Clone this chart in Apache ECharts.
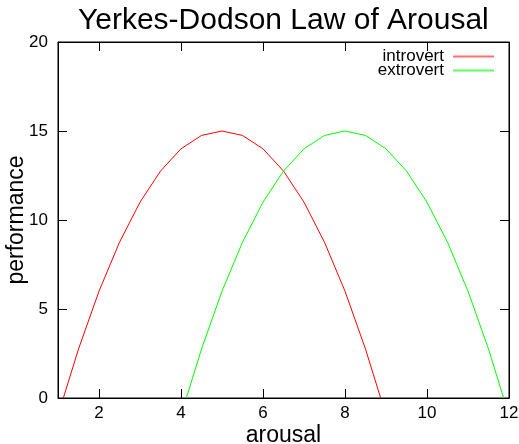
<!DOCTYPE html>
<html>
<head>
<meta charset="utf-8">
<script src="https://cdn.jsdelivr.net/npm/echarts@6/dist/echarts.min.js"></script>
<style>
  html, body { margin: 0; padding: 0; background: #fff; }
  #main { width: 519px; height: 444px; }
</style>
</head>
<body>
<div id="main"></div>
<script>
let introX = [1.13, 1.5, 2, 2.5, 3, 3.5, 4, 4.5, 5, 5.5, 6, 6.5, 7, 7.5, 8, 8.5, 8.87];
let introY = [0, 2.75, 6, 8.75, 11, 12.75, 14, 14.75, 15, 14.75, 14, 12.75, 11, 8.75, 6, 2.75, 0];
let extroX = [4.13, 4.5, 5, 5.5, 6, 6.5, 7, 7.5, 8, 8.5, 9, 9.5, 10, 10.5, 11, 11.5, 11.87];
let extroY = [0, 2.75, 6, 8.75, 11, 12.75, 14, 14.75, 15, 14.75, 14, 12.75, 11, 8.75, 6, 2.75, 0];
let xTicks = [2, 4, 6, 8, 10, 12];

let font = 'Liberation Sans, Arial, sans-serif';
let myChart = echarts.init(document.getElementById('main'));

let pairs = (xs, ys) => xs.map((x, i) => [x, ys[i]]);

let tickStyle = {
    show: true,
    inside: true,
    length: 9,
    lineStyle: { color: '#000', width: 1 }
};
let lineStyle = { show: true, onZero: false, lineStyle: { color: '#000', width: 1 } };

myChart.setOption({
    backgroundColor: '#fff',
    animation: false,
    title: {
        text: 'Yerkes-Dodson Law of Arousal',
        left: 73,
        top: 1,
        textStyle: {
            fontFamily: font,
            fontSize: 30,
            fontWeight: 'normal',
            color: '#000'
        }
    },
    legend: {
        orient: 'vertical',
        right: 20,
        top: 43,
        align: 'right',
        itemWidth: 41,
        itemHeight: 2,
        itemGap: -3,
        icon: 'rect',
        data: [
            { name: 'introvert', itemStyle: { color: '#ff7070' } },
            { name: 'extrovert', itemStyle: { color: '#60ff60' } }
        ],
        textStyle: {
            fontFamily: font,
            fontSize: 17,
            lineHeight: 13,
            color: '#000',
            padding: [0, 4, 0, 0]
        }
    },
    grid: {
        left: 58,
        right: 10,
        top: 42,
        bottom: 46,
        show: true,
        borderColor: '#000',
        borderWidth: 1,
        containLabel: false,
        outerBoundsMode: 'none'
    },
    xAxis: [{
        type: 'value',
        min: 1,
        max: 12,
        name: 'arousal',
        nameLocation: 'middle',
        nameGap: 26,
        nameMoveOverlap: false,
        nameTextStyle: { fontFamily: font, fontSize: 23, color: '#000' },
        axisLine: lineStyle,
        axisTick: Object.assign({ customValues: xTicks }, tickStyle),
        axisLabel: {
            customValues: xTicks,
            margin: 7,
            fontFamily: font,
            fontSize: 17,
            color: '#000'
        },
        splitLine: { show: false }
    }, {
        type: 'value',
        position: 'top',
        min: 1,
        max: 12,
        axisLine: lineStyle,
        axisTick: Object.assign({ customValues: xTicks }, tickStyle),
        axisLabel: { show: false },
        splitLine: { show: false }
    }],
    yAxis: [{
        type: 'value',
        min: 0,
        max: 20,
        interval: 5,
        name: 'performance',
        nameLocation: 'middle',
        nameGap: 30,
        nameMoveOverlap: false,
        nameTextStyle: { fontFamily: font, fontSize: 23, color: '#000' },
        axisLine: lineStyle,
        axisTick: tickStyle,
        axisLabel: {
            margin: 10,
            fontFamily: font,
            fontSize: 17,
            color: '#000'
        },
        splitLine: { show: false }
    }, {
        type: 'value',
        position: 'right',
        min: 0,
        max: 20,
        interval: 5,
        axisLine: lineStyle,
        axisTick: tickStyle,
        axisLabel: { show: false },
        splitLine: { show: false }
    }],
    series: [{
        name: 'introvert',
        type: 'line',
        showSymbol: false,
        color: '#ff0000',
        lineStyle: { width: 1, color: '#ff0000' },
        data: pairs(introX, introY)
    }, {
        name: 'extrovert',
        type: 'line',
        showSymbol: false,
        color: '#00ff00',
        lineStyle: { width: 1, color: '#00ff00' },
        data: pairs(extroX, extroY)
    }]
});
</script>
</body>
</html>
